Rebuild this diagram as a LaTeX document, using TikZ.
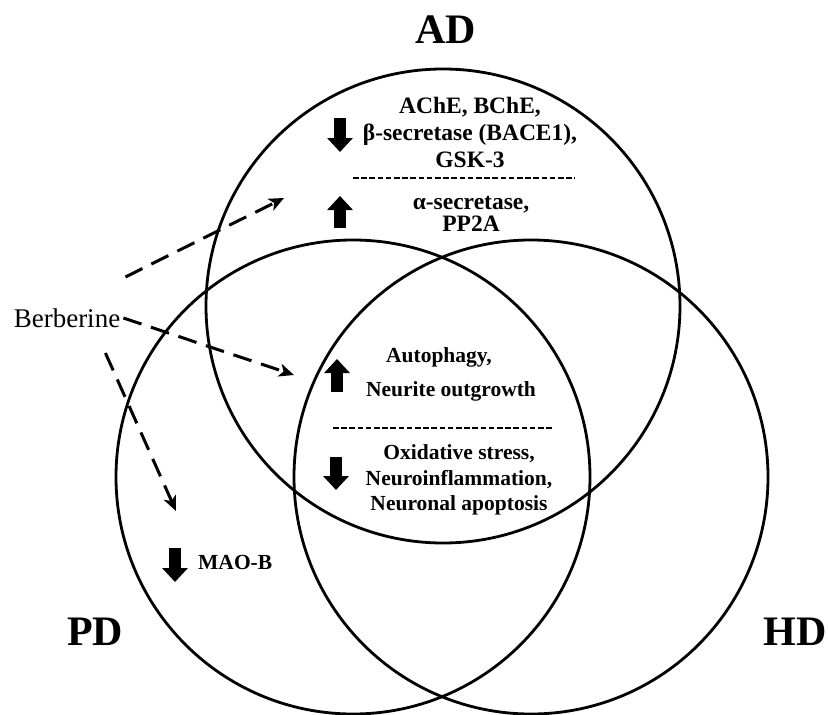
\documentclass[tikz,border=0pt]{standalone}
\usepackage{fontspec}
\setmainfont{Liberation Serif}
\usetikzlibrary{arrows.meta}

\begin{document}
\begin{tikzpicture}[x=1pt, y=-1pt,
	ring/.style={line width=2.8pt},
	title/.style={font=\fontsize{42}{50}\selectfont\bfseries, inner sep=0pt},
	txt/.style={font=\fontsize{21.5}{26}\selectfont\bfseries, align=center, inner sep=0pt},
	bigtxt/.style={txt, font=\fontsize{23.5}{27}\selectfont\bfseries},
	berarrow/.style={line width=3pt, dash pattern=on 19pt off 10pt, -{Stealth[length=15pt,width=13pt,inset=4pt]}},
	blockarrow/.style={line width=12pt, -{Triangle[length=14pt,width=25pt]}},
	seprow/.style={line width=2.5pt, dash pattern=on 5.5pt off 2.7pt}]
	\useasboundingbox (0,0) rectangle (828,715);

	\coordinate (AD) at (443,306);
	\coordinate (PD) at (353,477);
	\coordinate (HD) at (531,477);

	\draw [ring] (AD) circle (237pt);
	\draw [ring] (PD) circle (237pt);
	\draw [ring] (HD) circle (237pt);

	\node [title] (adlab) at (446,30) {AD};
	\node [title] (pdlab) at (95,632) {PD};
	\node [title] (hdlab) at (795,632) {HD};

	\node [bigtxt] (inhibAD) at (470,132) {AChE, BChE,\\β-secretase (BACE1),\\GSK-3};
	\draw [seprow] (353,178) -- (575,178);
	\node [bigtxt, font=\fontsize{23.5}{22}\selectfont\bfseries] (actAD) at (471,214) {α-secretase,\\PP2A};
	\draw [blockarrow] (340,118) -- (340,152);
	\draw [blockarrow] (340,228) -- (340,196);

	\node [txt] (autoph) at (439,357) {Autophagy,};
	\node [txt] (neurite) at (451,391) {Neurite outgrowth};
	\draw [seprow] (333,428) -- (552,428);
	\node [txt, font=\fontsize{21.5}{25.5}\selectfont\bfseries] (protect) at (459,480) {Oxidative stress,\\Neuroinflammation,\\Neuronal apoptosis};
	\draw [blockarrow] (337,392) -- (337,359);
	\draw [blockarrow] (336,457) -- (336,490);

	\node [txt, anchor=west] (maob) at (198,562) {MAO-B};
	\draw [blockarrow] (175,548) -- (175,582);

	\node [font=\fontsize{27}{32}\selectfont, inner sep=0pt] (ber) at (67,318) {Berberine};
	\coordinate (toAD) at (284,198);
	\coordinate (toCore) at (294,375);
	\coordinate (toPD) at (176,511);
	\draw [berarrow] ([xshift=5pt,yshift=41pt]ber.east) -- (toAD);
	\draw [berarrow] ([xshift=3pt]ber.east) -- (toCore);
	\draw [berarrow] ([xshift=-15pt,yshift=-35pt]ber.east) -- (toPD);
\end{tikzpicture}
\end{document}
